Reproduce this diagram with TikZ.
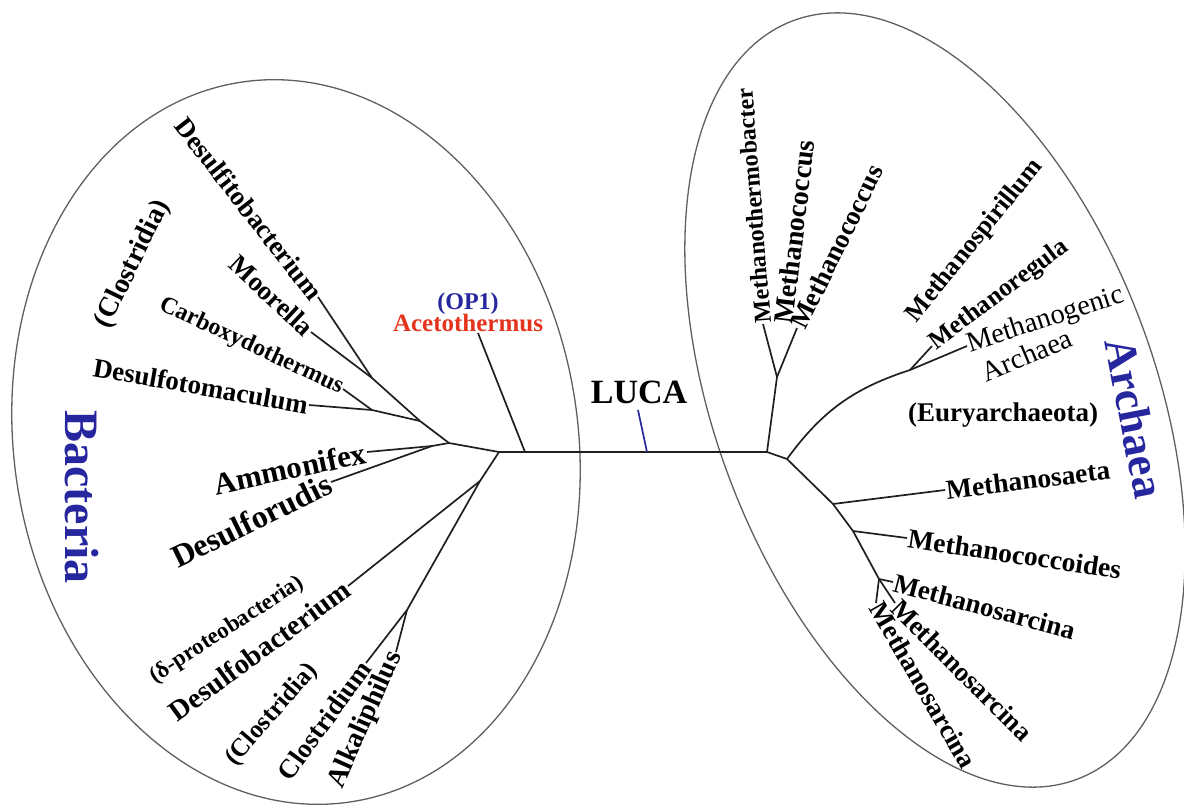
\documentclass[tikz,border=0pt]{standalone}
\usepackage{fontspec}
\setmainfont{Liberation Serif}
\usepackage{color}
\usetikzlibrary{positioning}

\definecolor{bluetxt}{RGB}{38,38,158}
\definecolor{redtxt}{RGB}{228,52,30}
\definecolor{treeline}{RGB}{35,30,30}
\definecolor{ovalline}{RGB}{95,95,95}

\begin{document}
\begin{tikzpicture}[x=1pt,y=1pt]
	% Define styles
	\tikzstyle{branch} = [draw=treeline, line width=1.7pt]
	\tikzstyle{domainoval} = [draw=ovalline, line width=1.3pt]
	\tikzstyle{lucatick} = [draw=bluetxt, line width=1.7pt]
	\tikzstyle{taxon} = [inner sep=1pt, text=black]
	\tikzset{fs/.style={font=\bfseries\fontsize{#1}{#1}\selectfont},
		fsn/.style={font=\mdseries\fontsize{#1}{#1}\selectfont}}
	
	\useasboundingbox (0,0) rectangle (1184,-807);
	
	% The two domains
	\draw[domainoval, rotate around={8.8:(296,-442)}] (296,-442) ellipse [x radius=282, y radius=364];
	\draw[domainoval, rotate around={20.5:(935,-400)}] (935,-400) ellipse [x radius=220, y radius=405];
	
	% Branch points
	\coordinate (J0) at (499,-452);
	\coordinate (A0) at (525,-452);
	\coordinate (Jam) at (449,-443);
	\coordinate (Jad) at (432,-446);
	\coordinate (Jall) at (420,-421);
	\coordinate (Jcd) at (372,-410);
	\coordinate (Jmd) at (372,-378);
	\coordinate (Jl) at (480,-481);
	\coordinate (Jk) at (407,-610);
	\coordinate (lucabase) at (647,-452);
	\coordinate (lucatop) at (638,-410);
	\coordinate (JR0) at (767,-452);
	\coordinate (Jup) at (777,-377);
	\coordinate (JR1) at (787,-459);
	\coordinate (Jsp) at (910,-370);
	\coordinate (Jsa) at (833,-504);
	\coordinate (Jco) at (853,-531);
	\coordinate (Jsr) at (879,-579);
	
	% Place nodes (Bacteria)
	\node[taxon, fs=27, rotate=-52, anchor=east] (desulfito) at (318,-297) {Desulfitobacterium};
	\node[taxon, fs=27, rotate=-43, anchor=east] (moorella) at (311,-332) {Moorella};
	\node[taxon, fs=24, rotate=-25, anchor=east] (carboxy) at (343,-389) {Carboxydothermus};
	\node[taxon, fs=27, rotate=-10, anchor=east] (desulfoto) at (309,-405) {Desulfotomaculum};
	\node[taxon, fs=28, rotate=64] (clostrA) at (133,-264) {(Clostridia)};
	\node[taxon, fs=31, rotate=12, anchor=east] (ammonifex) at (367,-452) {Ammonifex};
	\node[taxon, fs=32, rotate=26, anchor=east] (desulforudis) at (331,-482) {Desulforudis};
	\node[taxon, fs=48, rotate=-90, text=bluetxt] (bacteria) at (82,-497) {Bacteria};
	\node[taxon, fs=23, rotate=33] (delta) at (227,-630) {(δ-proteobacteria)};
	\node[taxon, fs=28.5, rotate=36, anchor=east] (desulfobact) at (348,-586) {Desulfobacterium};
	\node[taxon, fs=25.5, rotate=49] (clostrB) at (272,-715) {(Clostridia)};
	\node[taxon, fs=27, rotate=54, anchor=east] (clostridium) at (366,-663) {Clostridium};
	\node[taxon, fs=28, rotate=66, anchor=east] (alkali) at (396,-652) {Alkaliphilus};
	\node[taxon, fs=25, text=redtxt] (aceto) at (468,-323) {Acetothermus};
	\node[taxon, fs=24, text=bluetxt, above=-3pt of aceto] (op1) {(OP1)};
	\node[taxon, fs=34] (luca) at (639,-392) {LUCA};
	
	% Place nodes (Archaea)
	\node[taxon, fs=24.3, rotate=94.5, anchor=west] (mthermo) at (763,-324) {Methanothermobacter};
	\node[taxon, fs=28, rotate=83, anchor=west] (mcoccA) at (783,-325) {Methanococcus};
	\node[taxon, fs=27, rotate=64, anchor=west] (mcoccB) at (797,-328) {Methanococcus};
	\node[taxon, fs=26, rotate=51, anchor=west] (mspir) at (911,-320) {Methanospirillum};
	\node[taxon, fs=25.5, rotate=37, anchor=west] (mreg) at (932,-346) {Methanoregula};
	\node[taxon, fsn=28.5, rotate=18, anchor=west] (mgenic) at (967,-346) {Methanogenic};
	\node[taxon, fsn=28.5, rotate=23, anchor=west] (march) at (982,-374) {Archaea};
	\node[taxon, fs=27] (eury) at (1003,-415) {(Euryarchaeota)};
	\node[taxon, fs=45, rotate=-79, text=bluetxt] (archaea) at (1135,-418) {Archaea};
	\node[taxon, fs=27.5, rotate=7, anchor=west] (msaeta) at (945,-490) {Methanosaeta};
	\node[taxon, fs=27.5, rotate=-8.5, anchor=west] (mcoccoid) at (907,-538) {Methanococcoides};
	\node[taxon, fs=27, rotate=-15, anchor=west] (msarcA) at (893,-582) {Methanosarcina};
	\node[taxon, fs=27, rotate=-45, anchor=west] (msarcB) at (895,-603) {Methanosarcina};
	\node[taxon, fs=27, rotate=-60, anchor=west] (msarcC) at (876,-603) {Methanosarcina};
	
	% Draw branches
	\draw[branch] (J0) -- (JR0);
	\draw[branch] (A0) -- ([xshift=10pt]aceto.south);
	\draw[lucatick] (lucabase) -- (lucatop);
	\draw[branch] (desulfito.east) -- (Jmd);
	\draw[branch] (moorella.east) -- (Jmd);
	\draw[branch] (Jmd) -- (Jall);
	\draw[branch] (carboxy.east) -- (Jcd);
	\draw[branch] (desulfoto.east) -- (Jcd);
	\draw[branch] (Jcd) -- (Jall);
	\draw[branch] (Jall) -- (Jam) -- (J0);
	\draw[branch] (ammonifex.east) -- (Jad);
	\draw[branch] (desulforudis.east) -- (Jad);
	\draw[branch] (Jad) -- (Jam);
	\draw[branch] (J0) -- (Jl) -- (desulfobact.east);
	\draw[branch] (Jl) -- (Jk);
	\draw[branch] (Jk) -- (clostridium.east);
	\draw[branch] (Jk) -- (alkali.east);
	\draw[branch] (JR0) -- (Jup);
	\draw[branch] (Jup) -- (mthermo.west);
	\draw[branch] (Jup) -- (mcoccB.west);
	\draw[branch] (JR0) -- (JR1);
	\draw[branch] (JR1) to[bend left=18] (Jsp);
	\draw[branch] (Jsp) -- (mreg.west);
	\draw[branch] (Jsp) -- (mgenic.west);
	\draw[branch] (JR1) -- (Jsa) -- (Jco) -- (Jsr);
	\draw[branch] (Jsa) -- (msaeta.west);
	\draw[branch] (Jco) -- (mcoccoid.west);
	\draw[branch] (Jsr) -- (msarcA.west);
	\draw[branch] (Jsr) -- (msarcB.west);
	\draw[branch] (Jsr) -- (msarcC.west);
\end{tikzpicture}
\end{document}
